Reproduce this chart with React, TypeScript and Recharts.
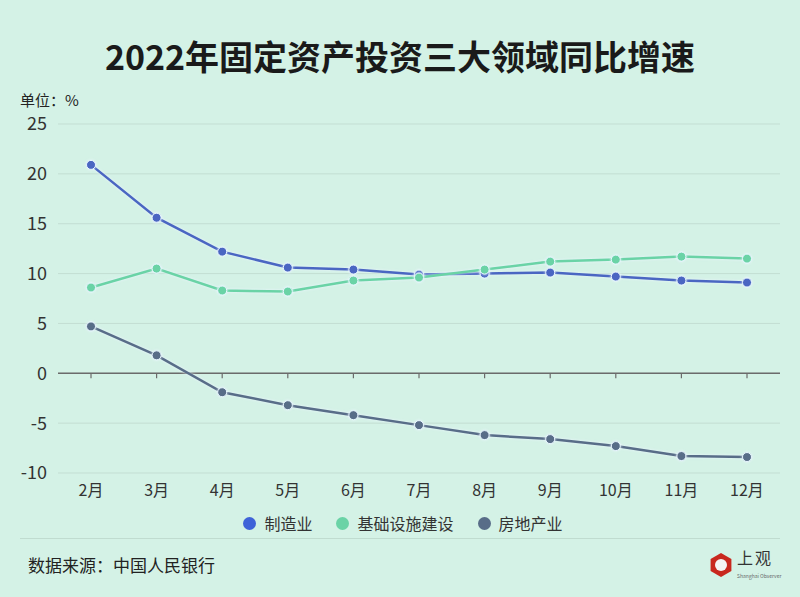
import React from "react";
import { LineChart, Line, XAxis, YAxis, CartesianGrid, ReferenceLine } from "recharts";

const months = ["2月", "3月", "4月", "5月", "6月", "7月", "8月", "9月", "10月", "11月", "12月"];
const manufacturing = [20.9, 15.6, 12.2, 10.6, 10.4, 9.9, 10.0, 10.1, 9.7, 9.3, 9.1];
const infrastructure = [8.6, 10.5, 8.3, 8.2, 9.3, 9.6, 10.4, 11.2, 11.4, 11.7, 11.5];
const realEstate = [4.7, 1.8, -1.9, -3.2, -4.2, -5.2, -6.2, -6.6, -7.3, -8.3, -8.4];
const yTicks = [-10, -5, 0, 5, 10, 15, 20, 25];

const seriesNames = ["制造业", "基础设施建设", "房地产业"];
const lineColors = ["#4a66c2", "#6ad3a6", "#586d88"];
const legendColors = ["#3f63d8", "#6ad3a6", "#586d88"];

const data = months.map((m, i) => ({
  month: m,
  manufacturing: manufacturing[i],
  infrastructure: infrastructure[i],
  realEstate: realEstate[i],
}));

const FONT = '"Noto Sans CJK SC", "Noto Sans", sans-serif';
const BG = "#d4f2e6";

export default function App() {
  const keys = ["manufacturing", "infrastructure", "realEstate"];
  return (
    <div
      style={{
        position: "absolute",
        left: 0,
        top: 0,
        width: 800,
        height: 597,
        background: BG,
        fontFamily: FONT,
        overflow: "hidden",
      }}
    >
      <div
        style={{
          position: "absolute",
          top: 33,
          left: 0,
          width: 800,
          textAlign: "center",
          fontSize: 34,
          fontWeight: 700,
          color: "#1a1a1a",
          lineHeight: "46px",
        }}
      >
        2022年固定资产投资三大领域同比增速
      </div>
      <div
        style={{
          position: "absolute",
          top: 90,
          left: 20,
          fontSize: 15,
          color: "#222",
          lineHeight: "20px",
        }}
      >
        单位：%
      </div>
      <div style={{ position: "absolute", left: 0, top: 0 }}>
        <LineChart
          width={800}
          height={597}
          data={data}
          margin={{ top: 124, right: 20, bottom: 94, left: 8 }}
        >
          <CartesianGrid vertical={false} stroke="#c3ded3" strokeWidth={1} />
          <XAxis
            dataKey="month"
            axisLine={false}
            tickLine={false}
            tickMargin={6}
            height={30}
            padding={{ left: 33, right: 33 }}
            tick={{ fill: "#333", fontSize: 16, fontFamily: FONT }}
            interval={0}
          />
          <YAxis
            domain={[-10, 25]}
            ticks={yTicks}
            width={50}
            axisLine={false}
            tickLine={false}
            tickMargin={5}
            interval={0}
            tick={{ fill: "#333", fontSize: 18, fontFamily: FONT }}
          />
          <ReferenceLine y={0} stroke="#6b6b6b" strokeWidth={1.5} />
          {months.map((m) => (
            <ReferenceLine
              key={m}
              segment={[
                { x: m, y: 0 },
                { x: m, y: -0.5 },
              ]}
              stroke="#6b6b6b"
              strokeWidth={1.2}
            />
          ))}
          {keys.map((k, i) => (
            <Line
              key={k}
              dataKey={k}
              name={seriesNames[i]}
              type="linear"
              stroke={lineColors[i]}
              strokeWidth={2.5}
              dot={{ r: 4.5, fill: lineColors[i], stroke: "#e8f6ff", strokeWidth: 1 }}
              isAnimationActive={false}
              style={{ filter: "drop-shadow(0 0 1.5px rgba(235,245,255,0.9))" }}
            />
          ))}
        </LineChart>
      </div>
      <div
        style={{
          position: "absolute",
          top: 512,
          left: 0,
          width: 800,
          display: "flex",
          justifyContent: "center",
          alignItems: "center",
          fontSize: 16,
          color: "#333",
          lineHeight: "22px",
          paddingLeft: 6,
          boxSizing: "border-box",
        }}
      >
        {seriesNames.map((n, i) => (
          <div
            key={n}
            style={{ display: "flex", alignItems: "center", marginRight: i < 2 ? 24 : 0 }}
          >
            <span
              style={{
                display: "inline-block",
                width: 13,
                height: 13,
                borderRadius: "50%",
                background: legendColors[i],
                marginRight: 8,
              }}
            />
            <span>{n}</span>
          </div>
        ))}
      </div>
      <div
        style={{
          position: "absolute",
          top: 538,
          left: 20,
          width: 760,
          height: 1,
          background: "#c0dcd0",
        }}
      />
      <div
        style={{
          position: "absolute",
          top: 553,
          left: 28,
          fontSize: 17,
          color: "#222",
          lineHeight: "24px",
        }}
      >
        数据来源：中国人民银行
      </div>
      <div style={{ position: "absolute", top: 552, left: 708 }}>
        <svg width={26} height={26} viewBox="0 0 26 26">
          <polygon
            points="13,1 23.4,7 23.4,19 13,25 2.6,19 2.6,7"
            fill="#c8281e"
          />
          <circle cx={13} cy={13} r={6} fill="#f4f4f4" />
        </svg>
      </div>
      <div
        style={{
          position: "absolute",
          top: 548,
          left: 737,
          fontSize: 16,
          color: "#333",
          fontFamily: '"Noto Sans CJK SC", serif',
          lineHeight: "18px",
          letterSpacing: 2,
        }}
      >
        上观
      </div>
      <div
        style={{
          position: "absolute",
          top: 573,
          left: 737,
          fontSize: 5,
          color: "#666",
          lineHeight: "6px",
        }}
      >
        Shanghai Observer
      </div>
    </div>
  );
}
